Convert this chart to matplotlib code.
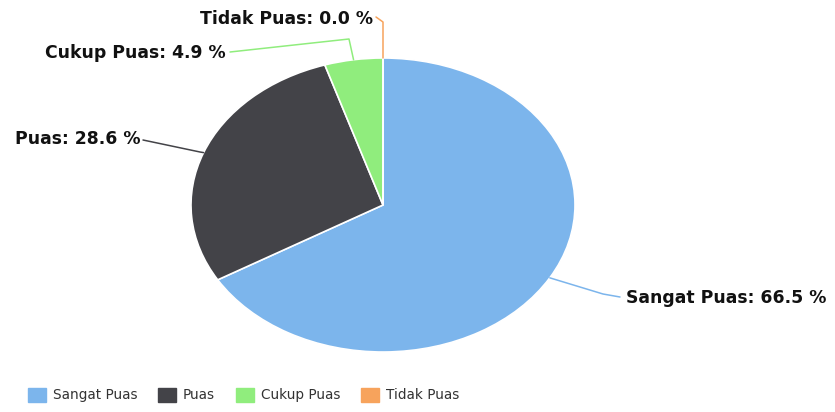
import numpy as np
import matplotlib
matplotlib.use("Agg")
import matplotlib.pyplot as plt
import matplotlib.patches as mpatches

# ── Data ───────────────────────────────────────────────────────────────────────
categories = ["Sangat Puas", "Puas", "Cukup Puas", "Tidak Puas"]
shares     = [66.5, 28.6, 4.9, 0.0]
colors     = ["#7cb5ec", "#434348", "#90ed7d", "#f7a35c"]

# ── Canvas (pixel based layout) ────────────────────────────────────────────────
W, H = 835, 412
CX, CY = 383, 205          # pie centre in pixels (from top-left)
RX, RY = 192, 147          # stretched pie radii in pixels

fig = plt.figure(figsize=(W / 100, H / 100), dpi=100)
ax = fig.add_axes([0, 0, 1, 1])

wedges, _ = ax.pie(shares, colors=colors, startangle=90, counterclock=False,
                   radius=1.0, wedgeprops=dict(edgecolor="white", linewidth=1.2))
ax.set_aspect("auto")
ax.set_xlim(-CX / RX, (W - CX) / RX)
ax.set_ylim(-(H - CY) / RY, CY / RY)
ax.axis("off")


def px(x, y):
    """pixel position -> data coords"""
    return (x - CX) / RX, (CY - y) / RY


# label elbows / text anchors in pixels
layout = {
    "Sangat Puas": dict(path=[(603, 294), (620, 297)], text=(626, 298), ha="left"),
    "Puas":        dict(path=[(200, 152), (143, 140)], text=(140, 139), ha="right"),
    "Cukup Puas":  dict(path=[(349, 39), (230, 52)], text=(226, 53), ha="right"),
    "Tidak Puas":  dict(path=[(383, 22), (376, 17)], text=(373, 19), ha="right"),
}

cum = 0.0
total = sum(shares)
for name, val, col in zip(categories, shares, colors):
    mid = (cum + val / 2) / total * 2 * np.pi      # clockwise from top
    cum += val
    ex, ey = np.sin(mid), np.cos(mid)
    spec = layout[name]
    pts = [(ex, ey)] + [px(*p) for p in spec["path"]]
    xs, ys = zip(*pts)
    ax.plot(xs, ys, color=col, lw=1.1, solid_capstyle="round", clip_on=False)
    tx, ty = px(*spec["text"])
    ax.text(tx, ty, f"{name}: {val:.1f} %", ha=spec["ha"], va="center",
            fontsize=12.4, fontweight="bold", color="#111111")

# ── Legend ─────────────────────────────────────────────────────────────────────
handles = [mpatches.Patch(color=c, label=n) for n, c in zip(categories, colors)]
fig.legend(handles=handles, loc="center left", ncol=4, frameon=False,
           bbox_to_anchor=(16 / W, 1 - 395 / H), fontsize=9.8,
           handlelength=1.3, handleheight=1.3, handletextpad=0.5,
           columnspacing=1.55, labelcolor="#333333")

fig.savefig("out.png", dpi=100)
